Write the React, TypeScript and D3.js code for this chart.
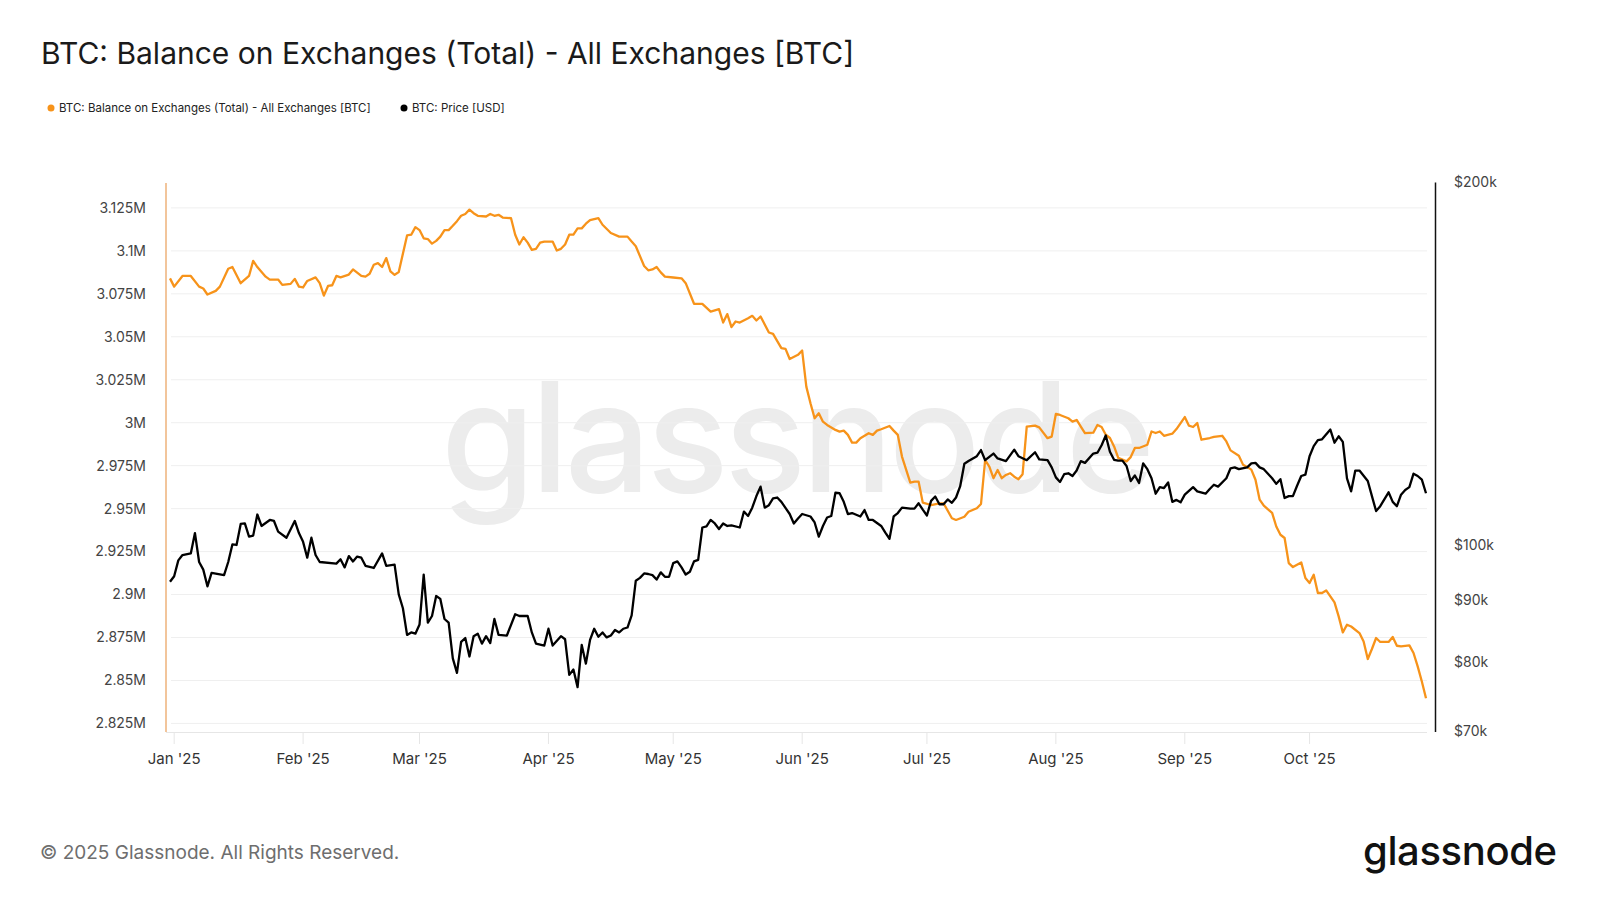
import { useMemo } from "react";
import * as d3 from "d3";

const width = 1600;
const height = 900;

// [days since 1 Jan 2025, BTC held on exchanges, millions]
const balance: [number, number][] = [
  [-1, 3.084], [0, 3.0792], [2, 3.0854], [4, 3.0854], [6, 3.0792], [7, 3.0781], [8, 3.0746], [10, 3.0767],
  [11, 3.0792], [13, 3.0896], [14, 3.0906], [16, 3.0812], [18, 3.0854], [19, 3.0942], [20, 3.0906], [22, 3.085],
  [23, 3.0833], [25, 3.0833], [26, 3.0802], [28, 3.0808], [29, 3.0837], [30, 3.0792], [31, 3.0787], [32, 3.0825],
  [34, 3.0846], [35, 3.0812], [36, 3.074], [37, 3.0796], [38, 3.08], [39, 3.0854], [40, 3.0846], [42, 3.0862],
  [43, 3.0892], [45, 3.0854], [46, 3.085], [47, 3.0867], [48, 3.0919], [49, 3.0929], [50, 3.0906], [51, 3.0958],
  [52, 3.0881], [53, 3.086], [54, 3.0877], [56, 3.109], [57, 3.1094], [58, 3.1138], [59, 3.1121], [60, 3.1073],
  [61, 3.1069], [62, 3.1042], [63, 3.1058], [64, 3.1083], [65, 3.1121], [66, 3.1121], [67, 3.1146], [68, 3.1173],
  [69, 3.1204], [70, 3.1215], [71, 3.124], [72, 3.1219], [73, 3.1204], [75, 3.12], [76, 3.1215], [77, 3.1204],
  [78, 3.121], [79, 3.1194], [81, 3.119], [82, 3.1094], [83, 3.1037], [84, 3.1079], [85, 3.1048], [86, 3.1006],
  [87, 3.1012], [88, 3.1048], [89, 3.1054], [91, 3.1054], [92, 3.1002], [93, 3.1012], [94, 3.1037], [95, 3.1094],
  [96, 3.1094], [97, 3.1131], [98, 3.1131], [99, 3.1158], [100, 3.1179], [102, 3.119], [103, 3.1152], [105, 3.1104],
  [107, 3.1083], [109, 3.1083], [110, 3.1054], [111, 3.1027], [113, 3.0912], [114, 3.0887], [115, 3.0892], [116, 3.0906],
  [117, 3.0875], [118, 3.085], [120, 3.0845], [122, 3.084], [123, 3.0812], [125, 3.0692], [127, 3.0692], [129, 3.0647],
  [131, 3.0661], [132, 3.0583], [133, 3.0632], [134, 3.0556], [135, 3.0589], [136, 3.0583], [138, 3.0608], [139, 3.0622],
  [140, 3.0595], [141, 3.0618], [143, 3.0525], [144, 3.0517], [146, 3.0434], [147, 3.043], [148, 3.0371], [150, 3.0395],
  [151, 3.042], [152, 3.021], [153, 3.0113], [154, 3.0026], [155, 3.0055], [156, 3.0006], [157, 2.9987], [159, 2.9958],
  [160, 2.9948], [161, 2.9954], [162, 2.9929], [163, 2.9884], [164, 2.9884], [165, 2.991], [167, 2.9939], [168, 2.9929],
  [169, 2.9954], [170, 2.9962], [172, 2.9981], [173, 2.9954], [174, 2.9929], [175, 2.9803], [177, 2.9651], [178, 2.9657],
  [179, 2.9657], [180, 2.9535], [182, 2.9521], [184, 2.9531], [185, 2.9531], [187, 2.9444], [188, 2.9434], [190, 2.9453],
  [191, 2.9482], [193, 2.9502], [194, 2.9527], [195, 2.9783], [196, 2.9744], [197, 2.9677], [198, 2.9725], [199, 2.9677],
  [200, 2.9696], [201, 2.9706], [202, 2.9686], [203, 2.9671], [204, 2.97], [205, 2.9977], [207, 2.9983], [208, 2.9973],
  [210, 2.991], [211, 2.9919], [212, 3.0051], [213, 3.0045], [215, 3.0026], [216, 3.0006], [217, 3.0016], [218, 2.9977],
  [219, 2.9939], [221, 2.9942], [222, 2.9987], [223, 2.9975], [224, 2.993], [225, 2.9911], [226, 2.9862], [227, 2.9795],
  [229, 2.9775], [230, 2.98], [231, 2.9853], [232, 2.9853], [234, 2.9872], [235, 2.9949], [236, 2.994], [237, 2.9949],
  [238, 2.9924], [240, 2.9936], [241, 2.9963], [243, 3.0033], [244, 2.9983], [245, 2.9975], [246, 2.9998], [247, 2.9901],
  [249, 2.9911], [250, 2.9917], [252, 2.9924], [253, 2.9891], [254, 2.9839], [256, 2.9808], [257, 2.9756], [258, 2.9742],
  [259, 2.9727], [260, 2.9668], [261, 2.9552], [262, 2.9517], [264, 2.9475], [265, 2.9396], [266, 2.9348], [267, 2.9329],
  [268, 2.9183], [269, 2.916], [271, 2.9187], [272, 2.9096], [273, 2.9067], [274, 2.9115], [275, 2.9009], [276, 2.9009],
  [277, 2.9024], [279, 2.8954], [280, 2.8873], [281, 2.878], [282, 2.8824], [283, 2.8814], [285, 2.8776], [286, 2.8727],
  [287, 2.8625], [288, 2.8683], [289, 2.8747], [290, 2.8724], [292, 2.8724], [293, 2.8753], [294, 2.8702], [295, 2.8698],
  [297, 2.8704], [298, 2.866], [299, 2.8582], [300, 2.8494], [301, 2.8397],
];

// [days since 1 Jan 2025, BTC price, thousand USD]
const price: [number, number][] = [
  [-1, 93.2], [0, 94.2], [1, 97.1], [2, 98.1], [4, 98.4], [5, 102.3], [6, 96.8], [7, 95.4], [8, 92.4], [9, 94.8],
  [12, 94.4], [13, 96.8], [14, 100.1], [15, 100], [16, 104.1], [17, 104.2], [18, 101.6], [19, 101.8], [20, 106],
  [21, 103.7], [23, 104.9], [24, 104.7], [25, 102.6], [27, 101.4], [29, 104.7], [30, 102.3], [31, 100.6], [32, 97.6],
  [33, 101.4], [34, 98.1], [35, 96.8], [39, 96.5], [40, 97.3], [41, 95.8], [42, 97.9], [43, 96.9], [44, 97.8],
  [45, 97.6], [46, 96.1], [48, 95.7], [50, 98.4], [51, 96.1], [53, 96.3], [54, 91], [55, 88.6], [56, 84.2], [57, 84.6],
  [58, 84.4], [59, 85.9], [60, 94.5], [61, 86.2], [62, 87.3], [63, 90.7], [64, 90.2], [65, 86.8], [66, 86.2], [67, 80.5],
  [68, 78.3], [69, 83.1], [70, 83.7], [71, 80.8], [72, 84], [73, 84.4], [74, 82.8], [75, 84], [76, 82.9], [77, 86.8],
  [78, 84.2], [80, 84.1], [82, 87.6], [83, 87.3], [85, 87.3], [86, 84.6], [87, 82.8], [89, 82.5], [90, 85.2], [91, 82.5],
  [93, 84], [94, 83.5], [95, 78], [96, 78.8], [97, 76.2], [98, 82.6], [99, 79.7], [100, 83.4], [101, 85.2], [102, 83.9],
  [103, 84.6], [104, 83.8], [105, 84.1], [106, 85], [107, 84.6], [108, 85.2], [109, 85.4], [110, 87.4], [111, 93.4],
  [112, 93.9], [113, 94.7], [114, 94.6], [115, 94.4], [116, 93.6], [117, 94.9], [118, 94.1], [119, 94.1], [120, 96.6],
  [121, 96.9], [122, 95.8], [123, 94.5], [124, 95], [125, 96.9], [126, 97.2], [127, 103.4], [128, 103.6], [129, 104.9],
  [130, 104.2], [131, 103.1], [132, 104.2], [133, 103.7], [134, 103.8], [136, 103.4], [137, 106.6], [138, 105.7],
  [139, 107.4], [140, 109.8], [141, 111.8], [142, 107.4], [143, 107.9], [144, 109.3], [145, 109.5], [146, 108.6],
  [148, 106.1], [149, 104.2], [150, 105.2], [151, 106.1], [153, 105.6], [154, 104.4], [155, 101.6], [156, 103.7],
  [157, 105.4], [158, 105.7], [159, 110.5], [160, 110.4], [161, 108.6], [162, 106.1], [163, 106.3], [165, 105.6],
  [166, 106.9], [167, 104.9], [168, 104.9], [170, 103.7], [171, 102.4], [172, 101.2], [173, 105.6], [174, 106.3],
  [175, 107.4], [177, 107.2], [178, 107.2], [179, 108.3], [180, 107], [181, 105.8], [182, 108.8], [183, 109.7],
  [184, 108.1], [185, 108.1], [186, 109.1], [187, 108.4], [188, 109.5], [189, 111.9], [190, 116.8], [191, 117.4],
  [193, 118.5], [194, 119.9], [195, 117.6], [197, 119.1], [198, 118], [200, 117.4], [202, 120], [203, 118.5],
  [205, 117.6], [207, 119.4], [208, 117.8], [210, 117.6], [211, 116], [212, 113.8], [213, 112.8], [214, 114.5],
  [215, 114.7], [216, 114.1], [217, 115.3], [218, 117.4], [219, 117], [221, 119.1], [222, 119.3], [223, 121],
  [224, 123.3], [225, 119.5], [226, 117.7], [227, 117.5], [228, 117.5], [229, 116.3], [230, 113], [231, 114.2],
  [232, 112.6], [233, 116.9], [234, 115.6], [235, 113.6], [236, 110.3], [237, 111.7], [238, 111.5], [239, 112.7],
  [240, 108.6], [241, 109], [242, 108.5], [243, 110.1], [245, 111.7], [246, 110.8], [248, 110.3], [249, 111.3],
  [250, 112.2], [251, 111.8], [253, 113.6], [254, 115.8], [255, 116], [256, 115.6], [258, 116], [259, 116.9],
  [260, 117], [261, 116], [262, 115.6], [264, 113.6], [265, 112.4], [266, 113.4], [267, 109.4], [268, 109.8],
  [269, 109.8], [270, 112], [271, 114.1], [272, 114.4], [273, 118.5], [274, 120.8], [275, 122.2], [276, 122.4],
  [278, 124.7], [279, 121.6], [280, 123.1], [281, 121.8], [282, 113.6], [283, 110.8], [284, 115.3], [285, 115.3],
  [287, 113], [288, 109.8], [289, 106.7], [290, 107.7], [292, 110.6], [293, 108.6], [294, 107.7], [295, 110.1],
  [296, 111.1], [297, 111.7], [298, 114.6], [299, 114.1], [300, 113.3], [301, 110.4],
];

const balanceTicks = [2.825, 2.85, 2.875, 2.9, 2.925, 2.95, 2.975, 3, 3.025, 3.05, 3.075, 3.1, 3.125];
const priceTicks = [70, 80, 90, 100, 200];

const title = "BTC: Balance on Exchanges (Total) - All Exchanges [BTC]";
const seriesNames = ["BTC: Balance on Exchanges (Total) - All Exchanges [BTC]", "BTC: Price [USD]"];

const orange = "#f7931a";
const font = "Inter, 'Noto Sans', sans-serif";

const day = (n: number) => new Date(Date.UTC(2025, 0, 1 + n));

export default function App() {
  const x = useMemo(
    () => d3.scaleUtc().domain([day(-1), day(301)]).range([170, 1426]),
    []
  );
  const yBal = d3.scaleLinear().domain([2.8203, 3.1395]).range([731.5, 183]);
  const yPrice = d3.scaleLog().domain([70, 200]).range([731.5, 182.5]);

  const balanceLine = d3
    .line<[number, number]>()
    .x((d) => x(day(d[0])))
    .y((d) => yBal(d[1]));
  const priceLine = d3
    .line<[number, number]>()
    .x((d) => x(day(d[0])))
    .y((d) => yPrice(d[1]));

  const months = x.ticks(d3.utcMonth.every(1)!).filter((d) => d >= day(0));
  const fmtMonth = d3.utcFormat("%b '%y");
  const fmtBal = (v: number) => `${+v.toFixed(3)}M`;

  const [left, right] = x.range();

  return (
    <svg
      width={width}
      height={height}
      style={{ position: "absolute", left: 0, top: 0, background: "#fff" }}
      fontFamily={font}
    >
      <text x={41} y={64} fontSize={30} fill="#1a1a1a">
        {title}
      </text>

      {/* legend */}
      <g fontSize={11.5} fill="#222">
        <circle cx={51} cy={108} r={3.5} fill={orange} />
        <text x={59} y={112}>{seriesNames[0]}</text>
        <circle cx={404} cy={108} r={3.5} fill="#000" />
        <text x={412} y={112}>{seriesNames[1]}</text>
      </g>

      {/* watermark */}
      <text x={441} y={492} fontSize={152} fontWeight={500} fill="#ececec" textLength={714}>
        glassnode
      </text>

      {/* grid + left axis */}
      <g>
        {balanceTicks.map((t) => (
          <g key={t}>
            <line x1={left + 1} x2={right + 1} y1={yBal(t)} y2={yBal(t)} stroke="#efefef" />
            <text x={146} y={yBal(t)} dy="0.35em" textAnchor="end" fontSize={14} fill="#444">
              {fmtBal(t)}
            </text>
          </g>
        ))}
        <line x1={166} x2={166} y1={183} y2={732} stroke="#f2c59b" strokeWidth={2} />
      </g>

      {/* x axis */}
      <g>
        <line x1={166} x2={right + 1} y1={732.5} y2={732.5} stroke="#e6e6e6" />
        {months.map((m) => (
          <g key={+m}>
            <line x1={x(m)} x2={x(m)} y1={732.5} y2={744} stroke="#e6e6e6" />
            <text x={x(m)} y={759} dy="0.35em" textAnchor="middle" fontSize={15} fill="#333">
              {fmtMonth(m)}
            </text>
          </g>
        ))}
      </g>

      {/* right axis */}
      <g>
        <line x1={1435.5} x2={1435.5} y1={182.5} y2={732} stroke="#111" strokeWidth={1.5} />
        {priceTicks.map((t) => (
          <text key={t} x={1454} y={yPrice(t)} dy="0.35em" fontSize={14} fill="#444">
            {`$${t}k`}
          </text>
        ))}
      </g>

      <path d={balanceLine(balance) ?? ""} fill="none" stroke={orange} strokeWidth={2.3} strokeLinejoin="round" />
      <path d={priceLine(price) ?? ""} fill="none" stroke="#000" strokeWidth={2.3} strokeLinejoin="round" />

      {/* footer */}
      <text x={40} y={859} fontSize={19} fill="#6e6e6e">
        © 2025 Glassnode. All Rights Reserved.
      </text>
      <text x={1363} y={865} fontSize={40} fontWeight={500} fill="#111" textLength={194}>
        glassnode
      </text>
    </svg>
  );
}
